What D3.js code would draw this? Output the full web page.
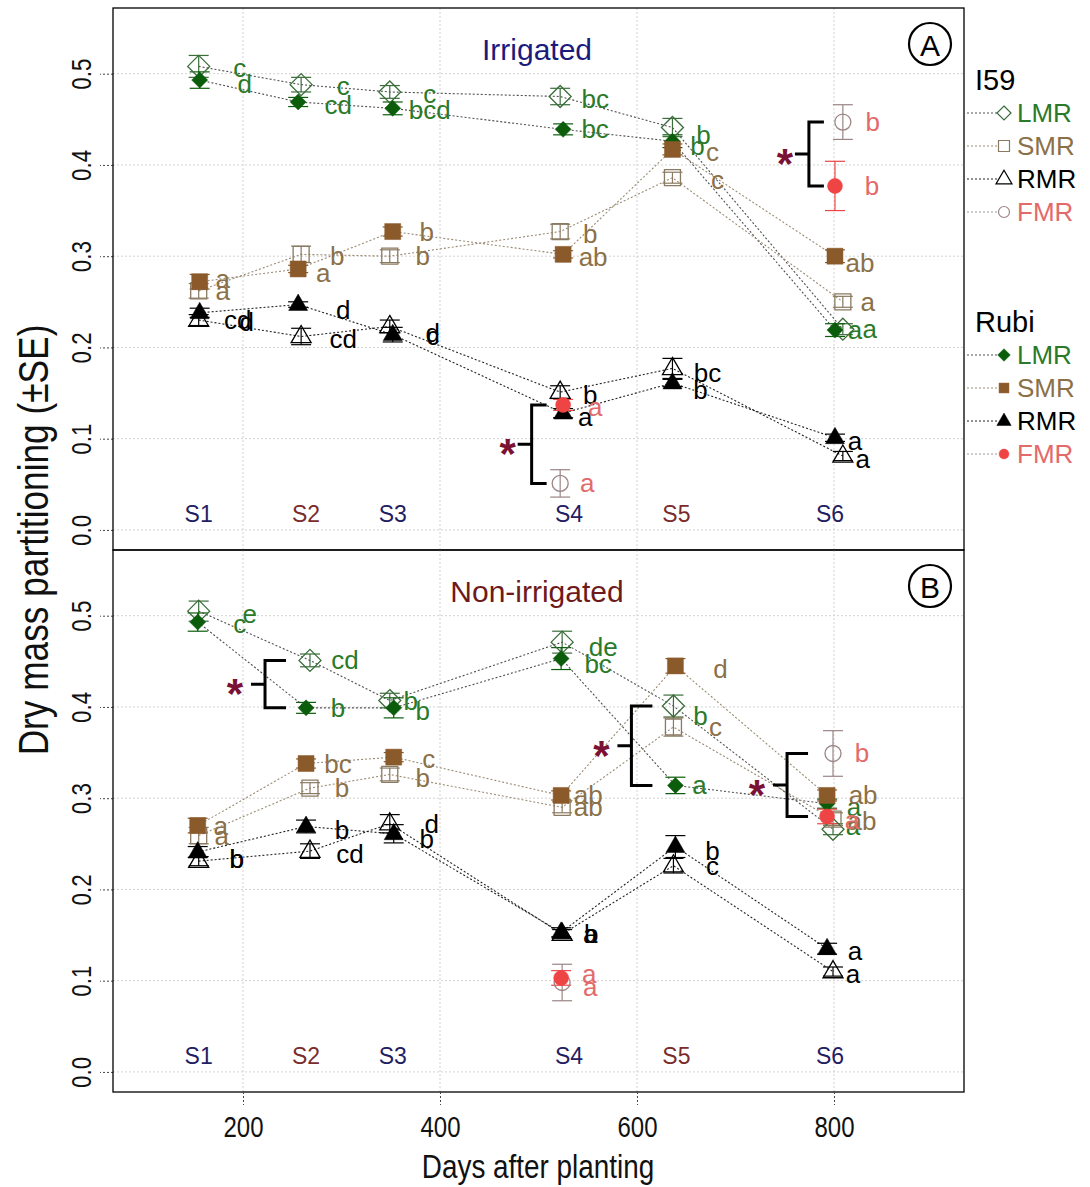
<!DOCTYPE html>
<html>
<head>
<meta charset="utf-8">
<script src="https://cdn.jsdelivr.net/npm/d3@7"></script>
<style>
body { margin: 0; background: #fff; }
</style>
</head>
<body>
<div id="chart"></div>
<script>
// ---- data ----
const stages = ["S1", "S2", "S3", "S4", "S5", "S6"];
const stageDays = [155, 264, 352, 531, 640, 796];
const xTicks = [200, 400, 600, 800];
const yTicks = [0, 0.1, 0.2, 0.3, 0.4, 0.5];

// sampling days (days after planting) per panel and cultivar
const daysA_I59 = [155, 259, 349, 522, 636, 809];
const daysA_Rubi = [156, 256, 352, 525, 636, 801];
const daysB_I59 = [155, 268, 349, 524, 637, 799];
const daysB_Rubi = [154, 264, 353, 523, 639, 793];

// [mean, SE, letter]  -- A: irrigated
const A_I59_LMR = [[0.508, 0.012, "c"], [0.488, 0.008, "c"], [0.480, 0.007, "c"], [0.475, 0.009, "bc"], [0.441, 0.010, "b"], [0.220, 0.006, "a"]];
const A_Rubi_LMR = [[0.493, 0.009, "d"], [0.469, 0.005, "cd"], [0.462, 0.007, "bcd"], [0.439, 0.006, "bc"], [0.426, 0.007, "b"], [0.219, 0.007, "a"]];
const A_I59_SMR = [[0.262, 0.008, "a"], [0.302, 0.009, "b"], [0.300, 0.007, "b"], [0.327, 0.008, "b"], [0.386, 0.006, "c"], [0.250, 0.006, "a"]];
const A_Rubi_SMR = [[0.272, 0.008, "a"], [0.286, 0.004, "a"], [0.327, 0.005, "b"], [0.302, 0.004, "ab"], [0.417, 0.006, "c"], [0.300, 0.007, "ab"]];
const A_I59_RMR = [[0.230, 0.006, "d"], [0.212, 0.009, "cd"], [0.223, 0.007, "c"], [0.151, 0.007, "b"], [0.177, 0.011, "bc"], [0.081, 0.005, "a"]];
const A_Rubi_RMR = [[0.238, 0.005, "cd"], [0.247, 0.003, "d"], [0.214, 0.008, "d"], [0.128, 0.005, "a"], [0.161, 0.004, "b"], [0.101, 0.004, "a"]];
// [stage index, mean, SE, letter]
const A_I59_FMR = [[3, 0.051, 0.015, "a"], [5, 0.447, 0.019, "b"]];
const A_Rubi_FMR = [[3, 0.137, 0.006, "a"], [5, 0.377, 0.027, "b"]];

// B: non-irrigated
const B_I59_LMR = [[0.505, 0.011, "e"], [0.451, 0.007, "cd"], [0.407, 0.008, "b"], [0.471, 0.012, "de"], [0.401, 0.012, "b"], [0.266, 0.006, "a"]];
const B_Rubi_LMR = [[0.493, 0.010, "c"], [0.399, 0.006, "b"], [0.399, 0.011, "b"], [0.453, 0.012, "bc"], [0.314, 0.009, "a"], [0.294, 0.005, "a"]];
const B_I59_SMR = [[0.259, 0.009, "a"], [0.311, 0.006, "b"], [0.326, 0.007, "b"], [0.290, 0.006, "ab"], [0.378, 0.010, "c"], [0.277, 0.007, "ab"]];
const B_Rubi_SMR = [[0.270, 0.008, "a"], [0.338, 0.005, "bc"], [0.345, 0.005, "c"], [0.303, 0.005, "ab"], [0.445, 0.008, "d"], [0.303, 0.006, "ab"]];
const B_I59_RMR = [[0.231, 0.005, "b"], [0.242, 0.008, "cd"], [0.272, 0.010, "d"], [0.151, 0.005, "a"], [0.226, 0.008, "c"], [0.110, 0.005, "a"]];
const B_Rubi_RMR = [[0.241, 0.006, "b"], [0.269, 0.007, "b"], [0.261, 0.010, "b"], [0.153, 0.005, "b"], [0.247, 0.012, "b"], [0.135, 0.006, "a"]];
const B_I59_FMR = [[3, 0.098, 0.020, "a"], [5, 0.349, 0.025, "b"]];
const B_Rubi_FMR = [[3, 0.103, 0.008, "a"], [5, 0.280, 0.008, "a"]];

// significant cultivar differences: [organ, stage index]
const sigA = [["FMR", 3], ["FMR", 5]];
const sigB = [["LMR", 1], ["LMR", 4], ["FMR", 5]];

// ---- layout ----
const W = 1090, H = 1187;
const L = 113, R = 964, PH = 542;

// letter placement relative to its point, px [dx, dy]
const labOff = {
  A_I59_LMR: [[41, 2], [42, 1], [40, 2], [35, 2], [31, 7], [27, 0]],
  A_Rubi_LMR: [[45, 4], [40, 3], [37, 2], [32, 0], [25, 5], [20, 0]],
  A_I59_SMR: [[24, 0], [36, 2], [33, 0], [30, 2], [45, 2], [25, 0]],
  A_Rubi_SMR: [[23, -3], [25, 4], [34, 0], [30, 3], [40, 3], [25, 7]],
  A_I59_RMR: [[48, 2], [42, 3], [43, 10], [30, 3], [35, 5], [20, 3]],
  A_Rubi_RMR: [[38, 7], [45, 5], [40, -2], [22, 4], [28, 7], [20, 3]],
  A_I59_FMR: [[27, 0], [30, 0]],
  A_Rubi_FMR: [[32, 2], [37, 0]],
  B_I59_LMR: [[51, 3], [35, 0], [21, 0], [41, 5], [27, 10], [20, -3]],
  B_Rubi_LMR: [[42, 2], [32, 0], [29, 3], [37, 5], [24, 0], [27, 3]],
  B_I59_SMR: [[23, 0], [32, 0], [33, 4], [26, 0], [42, 0], [29, 2]],
  B_Rubi_SMR: [[23, 0], [32, 0], [35, 2], [27, 0], [45, 3], [36, 0]],
  B_I59_RMR: [[38, -2], [40, 3], [42, 0], [28, 0], [39, 0], [20, 2]],
  B_Rubi_RMR: [[39, 7], [36, 4], [33, 5], [30, 2], [37, 4], [28, 2]],
  B_I59_FMR: [[28, 4], [29, 0]],
  B_Rubi_FMR: [[28, -4], [25, 4]]
};

const organStyle = {
  LMR: { shape: "diamond", I59: "#3a6d3a", Rubi: "#0b5c0b", text: "#2a7a2a", line: "#505050", size: { I59: 11, Rubi: 8 } },
  SMR: { shape: "square", I59: "#8a7a62", Rubi: "#8b5a2b", text: "#8b7048", line: "#9a8b72", size: { I59: 8, Rubi: 8 } },
  RMR: { shape: "triangle", I59: "#000", Rubi: "#000", text: "#000", line: "#222", size: { I59: 10, Rubi: 9.5 } },
  FMR: { shape: "circle", I59: "#9b8585", Rubi: "#ee4444", text: "#e36a6a", line: "#999", size: { I59: 8, Rubi: 7.5 } }
};

const panels = [
  { key: "A", top: 8, title: "Irrigated", titleColor: "#1b1b7e",
    days: { I59: daysA_I59, Rubi: daysA_Rubi },
    data: { I59_LMR: A_I59_LMR, Rubi_LMR: A_Rubi_LMR, I59_SMR: A_I59_SMR, Rubi_SMR: A_Rubi_SMR, I59_RMR: A_I59_RMR, Rubi_RMR: A_Rubi_RMR },
    fmr: { I59: A_I59_FMR, Rubi: A_Rubi_FMR },
    sig: sigA, brOff: 30, brTick: 15, starOff: 24 },
  { key: "B", top: 550, title: "Non-irrigated", titleColor: "#6e1a1a",
    days: { I59: daysB_I59, Rubi: daysB_Rubi },
    data: { I59_LMR: B_I59_LMR, Rubi_LMR: B_Rubi_LMR, I59_SMR: B_I59_SMR, Rubi_SMR: B_Rubi_SMR, I59_RMR: B_I59_RMR, Rubi_RMR: B_Rubi_RMR },
    fmr: { I59: B_I59_FMR, Rubi: B_Rubi_FMR },
    sig: sigB, brOff: 43, brTick: 21, starOff: 30 }
];

function shapePath(shape, s) {
  if (shape === "diamond") return `M0,${-s}L${s},0L0,${s}L${-s},0Z`;
  if (shape === "square") return `M${-s},${-s}H${s}V${s}H${-s}Z`;
  if (shape === "triangle") return `M0,${-s * 1.1}L${s},${s * 0.62}L${-s},${s * 0.62}Z`;
  return `M${-s},0a${s},${s} 0 1,0 ${2 * s},0a${s},${s} 0 1,0 ${-2 * s},0Z`;
}

const svg = d3.select("#chart").append("svg")
  .attr("width", W).attr("height", H)
  .style("font-family", "'Liberation Sans', Arial, sans-serif");

const x = d3.scaleLinear().domain([68, 932]).range([L, R]);

panels.forEach(p => {
  const y = d3.scaleLinear().domain([-0.022, 0.572]).range([p.top + PH, p.top]);
  const g = svg.append("g");

  // grid
  g.selectAll(".vg").data(xTicks).enter().append("line")
    .attr("x1", d => x(d)).attr("x2", d => x(d))
    .attr("y1", p.top).attr("y2", p.top + PH)
    .attr("stroke", "#d2d2d2").attr("stroke-dasharray", "2,2");
  g.selectAll(".hg").data(yTicks).enter().append("line")
    .attr("x1", L).attr("x2", R)
    .attr("y1", d => y(d)).attr("y2", d => y(d))
    .attr("stroke", "#d2d2d2").attr("stroke-dasharray", "2,2");

  // y axis (narrow, rotated labels like R's las=0)
  const ya = g.append("g").attr("transform", `translate(${L},0)`)
    .call(d3.axisLeft(y).tickValues(yTicks).tickFormat(d3.format(".1f")).tickSize(13));
  ya.select(".domain").remove();
  ya.selectAll(".tick line").attr("stroke", "#444").attr("stroke-dasharray", "2,2");
  ya.selectAll(".tick text")
    .attr("transform", "rotate(-90) scale(0.8,1)")
    .attr("x", 0).attr("y", -22).attr("dy", 0)
    .attr("text-anchor", "middle")
    .style("font-size", "28px").attr("fill", "#111");

  // stage labels
  g.selectAll(".st").data(stages).enter().append("text")
    .attr("x", (d, i) => x(stageDays[i]))
    .attr("y", y(0.017))
    .attr("text-anchor", "middle").attr("dominant-baseline", "central")
    .style("font-size", "23px")
    .attr("fill", (d, i) => (i === 1 || i === 4) ? "#7a2c2c" : "#1f2062")
    .text(d => d);

  // title and panel letter
  g.append("text").attr("x", 537).attr("y", p.top + 52)
    .attr("text-anchor", "middle").style("font-size", "30px")
    .attr("fill", p.titleColor).text(p.title);
  g.append("circle").attr("cx", 930).attr("cy", p.top + 36).attr("r", 21)
    .attr("fill", "none").attr("stroke", "#000").attr("stroke-width", 2.2);
  g.append("text").attr("x", 930).attr("y", p.top + 37)
    .attr("text-anchor", "middle").attr("dominant-baseline", "central")
    .style("font-size", "30px").text(p.key);

  const cults = ["I59", "Rubi"];
  const organs = ["LMR", "SMR", "RMR"];

  // lines
  organs.forEach(o => cults.forEach(c => {
    const arr = p.data[`${c}_${o}`];
    const line = d3.line().x((d, i) => x(p.days[c][i])).y(d => y(d[0]));
    g.append("path").datum(arr).attr("d", line)
      .attr("fill", "none").attr("stroke", organStyle[o].line)
      .attr("stroke-width", 1.1).attr("stroke-dasharray", "2,2");
  }));

  // collect all points
  const pts = [];
  cults.forEach(c => {
    organs.forEach(o => {
      p.data[`${c}_${o}`].forEach((d, i) => pts.push({ c, o, i, day: p.days[c][i], v: d[0], se: d[1], lab: d[2], off: labOff[`${p.key}_${c}_${o}`][i] }));
    });
    p.fmr[c].forEach((d, k) => pts.push({ c, o: "FMR", i: d[0], day: p.days[c][d[0]], v: d[1], se: d[2], lab: d[3], off: labOff[`${p.key}_${c}_FMR`][k] }));
  });

  // error bars
  pts.forEach(d => {
    const col = organStyle[d.o][d.c];
    const cx = x(d.day);
    const eb = g.append("g").attr("stroke", col).attr("stroke-width", 1.2);
    eb.append("line").attr("x1", cx).attr("x2", cx).attr("y1", y(d.v - d.se)).attr("y2", y(d.v + d.se));
    [d.v - d.se, d.v + d.se].forEach(v => eb.append("line")
      .attr("x1", cx - 10).attr("x2", cx + 10).attr("y1", y(v)).attr("y2", y(v)));
  });

  // points: open I59 first, filled Rubi on top
  ["I59", "Rubi"].forEach(c => {
    g.selectAll(null).data(pts.filter(d => d.c === c)).enter().append("path")
      .attr("transform", d => `translate(${x(d.day)},${y(d.v)})`)
      .attr("d", d => shapePath(organStyle[d.o].shape, organStyle[d.o].size[c]))
      .attr("fill", d => c === "Rubi" ? organStyle[d.o].Rubi : "none")
      .attr("stroke", d => organStyle[d.o][c])
      .attr("stroke-width", c === "Rubi" ? 0.5 : 1.3);
  });

  // letters
  g.selectAll(null).data(pts).enter().append("text")
    .attr("x", d => x(d.day) + d.off[0])
    .attr("y", d => y(d.v) + d.off[1])
    .attr("text-anchor", "middle").attr("dominant-baseline", "central")
    .style("font-size", "26px")
    .attr("fill", d => organStyle[d.o].text)
    .text(d => d.lab);

  // significance brackets
  p.sig.forEach(([o, s]) => {
    const a = pts.find(d => d.o === o && d.c === "I59" && d.i === s);
    const b = pts.find(d => d.o === o && d.c === "Rubi" && d.i === s);
    const yt = y(Math.max(a.v, b.v)), yb = y(Math.min(a.v, b.v));
    const vx = x((a.day + b.day) / 2) - p.brOff;
    const ym = (yt + yb) / 2;
    g.append("path")
      .attr("d", `M${vx + p.brTick},${yt}H${vx}V${yb}H${vx + p.brTick}M${vx - 14},${ym}H${vx}`)
      .attr("fill", "none").attr("stroke", "#000").attr("stroke-width", 3);
    g.append("text").attr("x", vx - p.starOff).attr("y", ym + 24)
      .attr("text-anchor", "middle").style("font-size", "42px").style("font-weight", "bold")
      .attr("fill", "#7b1233").text("*");
  });

  // frame
  g.append("rect").attr("x", L).attr("y", p.top).attr("width", R - L).attr("height", PH)
    .attr("fill", "none").attr("stroke", "#000").attr("stroke-width", 1.3);

  // x axis under last panel
  if (p.key === "B") {
    const xa = g.append("g").attr("transform", `translate(0,${p.top + PH})`)
      .call(d3.axisBottom(x).tickValues(xTicks).tickSize(13));
    xa.select(".domain").remove();
    xa.selectAll(".tick line").attr("stroke", "#444").attr("stroke-dasharray", "2,2");
    xa.selectAll(".tick text").attr("y", 24)
      .attr("transform", "scale(0.8,1)")
      .style("font-size", "30px").attr("fill", "#111");
  }
});

// axis titles
svg.append("text").attr("transform", "translate(48,540) rotate(-90) scale(0.82,1)")
  .attr("text-anchor", "middle")
  .style("font-size", "43px").attr("fill", "#111")
  .text("Dry mass partitioning (±SE)");
svg.append("text").attr("transform", "translate(538,1178) scale(0.82,1)")
  .attr("text-anchor", "middle")
  .style("font-size", "34px").attr("fill", "#111")
  .text("Days after planting");

// legend
const legendGroups = [
  { name: "I59", y: 80, cult: "I59" },
  { name: "Rubi", y: 322, cult: "Rubi" }
];
const legOrgans = ["LMR", "SMR", "RMR", "FMR"];
const legSize = { LMR: 7, SMR: 5.5, RMR: 8, FMR: 5.5 };
legendGroups.forEach(lg => {
  svg.append("text").attr("x", 975).attr("y", lg.y).attr("dominant-baseline", "central")
    .style("font-size", "29px").text(lg.name);
  legOrgans.forEach((o, k) => {
    const yy = lg.y + 33 + k * 33;
    const st = organStyle[o];
    svg.append("line").attr("x1", 967).attr("x2", 997).attr("y1", yy).attr("y2", yy)
      .attr("stroke", st.line).attr("stroke-dasharray", "2,2");
    svg.append("path").attr("transform", `translate(1004,${yy})`)
      .attr("d", shapePath(st.shape, lg.cult === "Rubi" ? legSize[o] * 0.9 : legSize[o]))
      .attr("fill", lg.cult === "Rubi" ? st.Rubi : "#fff")
      .attr("stroke", st[lg.cult]).attr("stroke-width", lg.cult === "Rubi" ? 0.5 : 1.2);
    svg.append("text").attr("x", 1017).attr("y", yy).attr("dominant-baseline", "central")
      .style("font-size", "26px").attr("fill", st.text).text(o);
  });
});
</script>
</body>
</html>
